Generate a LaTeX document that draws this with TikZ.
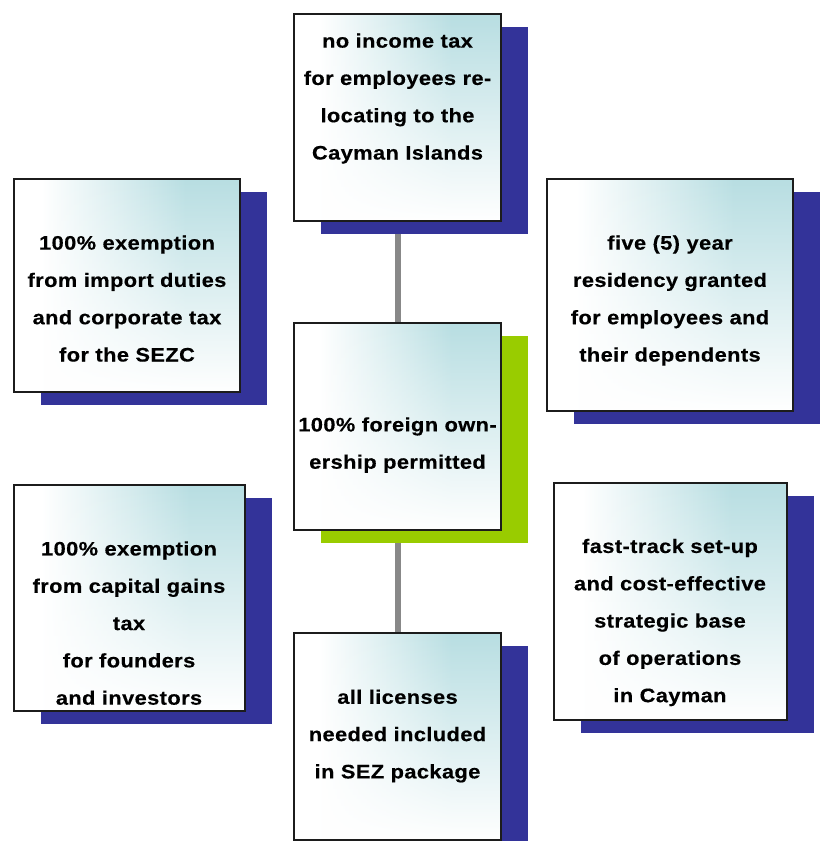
\documentclass[tikz,border=0pt]{standalone}
\usepackage{fontspec}
\newfontfamily\cardfont{Liberation Sans Bold}[FakeStretch=1.12, LetterSpace=2, FakeBold=0.4]
\usetikzlibrary{shadows,fadings,backgrounds}
\definecolor{shadowblue}{RGB}{51,51,153}
\definecolor{limegreen}{RGB}{153,204,0}
\definecolor{cardteal}{RGB}{184,222,226}
\definecolor{borderdark}{RGB}{28,28,28}
\definecolor{conngray}{RGB}{136,136,136}
\pgfdeclarehorizontalshading{cardh}{100bp}{color(0bp)=(white); color(31bp)=(white); color(63bp)=(cardteal); color(100bp)=(cardteal)}
\tikzfading[name=cardfade, top color=transparent!100, middle color=transparent!85, bottom color=transparent!0]
\newcommand\cardtop{\rule{0pt}{20pt}}
\newcommand\cardbot{\rule[-20pt]{0pt}{20pt}}
\begin{document}
\begin{tikzpicture}[x=1pt,y=-1pt,
  card/.style={rectangle, inner sep=0pt, draw=borderdark, line width=2pt,
    shade, shading=cardh,
    general shadow={fill=#1, shadow xshift=27pt, shadow yshift=-13pt},
    path picture={\fill[white, path fading=cardfade]
      (path picture bounding box.south west) rectangle (path picture bounding box.north east);}},
  card/.default=shadowblue,
  cardtext/.style={inner sep=0pt, align=center,
    font=\cardfont\fontsize{19.5}{37.3}\selectfont,
    execute at begin node=\cardtop, execute at end node=\cardbot},
  conn/.style={draw=conngray, line width=6pt}]
\path[use as bounding box] (0,0) rectangle (822,841);

\node[card, minimum width=207pt, minimum height=207pt] (b1) at (397.5,117.5) {};
\node[card, minimum width=226pt, minimum height=213pt] (b2) at (127,285.5) {};
\node[card, minimum width=246pt, minimum height=232pt] (b3) at (670,295) {};
\node[card=limegreen, minimum width=207pt, minimum height=207pt] (b4) at (397.5,426.5) {};
\node[card, minimum width=231pt, minimum height=226pt] (b5) at (129.5,598) {};
\node[card, minimum width=233pt, minimum height=237pt] (b6) at (670.5,601.5) {};
\node[card, minimum width=207pt, minimum height=207pt] (b7) at (397.5,736.5) {};

\begin{pgfonlayer}{background}
\draw[conn] (b1.south) -- (b4.north);
\draw[conn] (b4.south) -- (b7.north);
\end{pgfonlayer}

\node[cardtext] (t1) at (397.5,106.5) {no income tax\\for employees re-\\locating to the\\Cayman Islands};
\node[cardtext] (t2) at (127,308.5) {100\% exemption\\from import duties\\and corporate tax\\for the SEZC};
\node[cardtext] (t3) at (670,308.5) {five (5) year\\residency granted\\for employees and\\their dependents};
\node[cardtext] (t4) at (397.5,453) {100\% foreign own-\\ership permitted};
\node[cardtext] (t5) at (129,633) {100\% exemption\\from capital gains\\tax\\for founders\\and investors};
\node[cardtext] (t6) at (670,630.5) {fast-track set-up\\and cost-effective\\strategic base\\of operations\\in Cayman};
\node[cardtext] (t7) at (397.5,744) {all licenses\\needed included\\in SEZ package};
\end{tikzpicture}
\end{document}
